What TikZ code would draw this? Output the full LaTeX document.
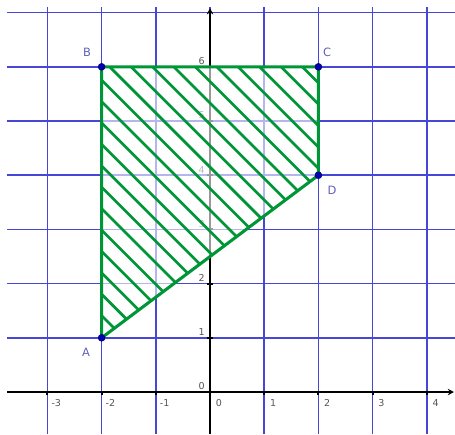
\documentclass[tikz,border=0pt]{standalone}
\usepackage{fontspec}
\setsansfont{DejaVu Sans}
\usetikzlibrary{arrows.meta}

\definecolor{gridblue}{RGB}{70,70,215}
\definecolor{hatchgreen}{RGB}{0,150,55}
\definecolor{ptblue}{RGB}{0,0,180}
\definecolor{ptlabel}{RGB}{95,95,185}
\definecolor{ticklabel}{RGB}{85,85,85}

\begin{document}
\begin{tikzpicture}[
   gridline/.style={color=gridblue, line width=0.85pt},
   axis/.style={color=black, line width=1pt, -{Stealth[length=3.2pt,width=3.4pt]}},
   ticklab/.style={font=\sffamily\fontsize{5}{6}\selectfont, text=ticklabel, inner sep=0pt},
   ptlab/.style={font=\sffamily\fontsize{6}{7}\selectfont, text=ptlabel, inner sep=0pt},
   pt/.style={circle, fill=ptblue, draw=ptblue!60!black, line width=0.3pt, inner sep=0pt, minimum size=3.6pt},
   hatch/.style={color=hatchgreen, line width=1.4pt},
   edge/.style={color=hatchgreen, line width=1.6pt, line join=round}
]
   \useasboundingbox (-3.875,-0.775) rectangle (4.52,7.233);

   % grid
   \foreach \y in {1,...,7} \draw[gridline] (-3.745,\y) -- (4.52,\y);
   \foreach \x in {-3,...,4} \draw[gridline] (\x,-0.775) -- (\x,7.1);

   % axes
   \draw[axis] (-3.745,0) -- (4.5,0);
   \draw[axis] (0,-0.775) -- (0,7.08);
   \foreach \x in {-3,...,4} \draw[line width=1pt] (\x,0) -- (\x,-0.05);
   \foreach \y in {1,...,6} \draw[line width=1pt] (-0.05,\y) -- (0.05,\y);

   \foreach \x in {-3,...,4} \node[ticklab] (xlab\x) at (\x+0.163,-0.195) {\x};
   \foreach \y in {0,...,6} \node[ticklab] (ylab\y) at (-0.153,\y+0.105) {\y};

   \coordinate (A) at (-2,1);
   \coordinate (B) at (-2,6);
   \coordinate (C) at (2,6);
   \coordinate (D) at (2,4);

   % polygon: pale fill, hatching, border
   \fill[white,opacity=0.6] (A) -- (B) -- (C) -- (D) -- cycle;
   \begin{scope}
      \clip (A) -- (B) -- (C) -- (D) -- cycle;
      \foreach \k in {-13,...,10}
         \draw[hatch] ({4.149+0.395*\k-8},8) -- ({4.149+0.395*\k+1},-1);
   \end{scope}
   \draw[edge] (A) -- (B) -- (C) -- (D) -- cycle;

   \node[pt] (pA) at (A) {};
   \node[pt] (pB) at (B) {};
   \node[pt] (pC) at (C) {};
   \node[pt] (pD) at (D) {};

   \node[ptlab] (labA) at (-2.288,0.738) {A};
   \node[ptlab] (labB) at (-2.269,6.273) {B};
   \node[ptlab] (labC) at (2.159,6.273) {C};
   \node[ptlab] (labD) at (2.25,3.727) {D};
\end{tikzpicture}
\end{document}
